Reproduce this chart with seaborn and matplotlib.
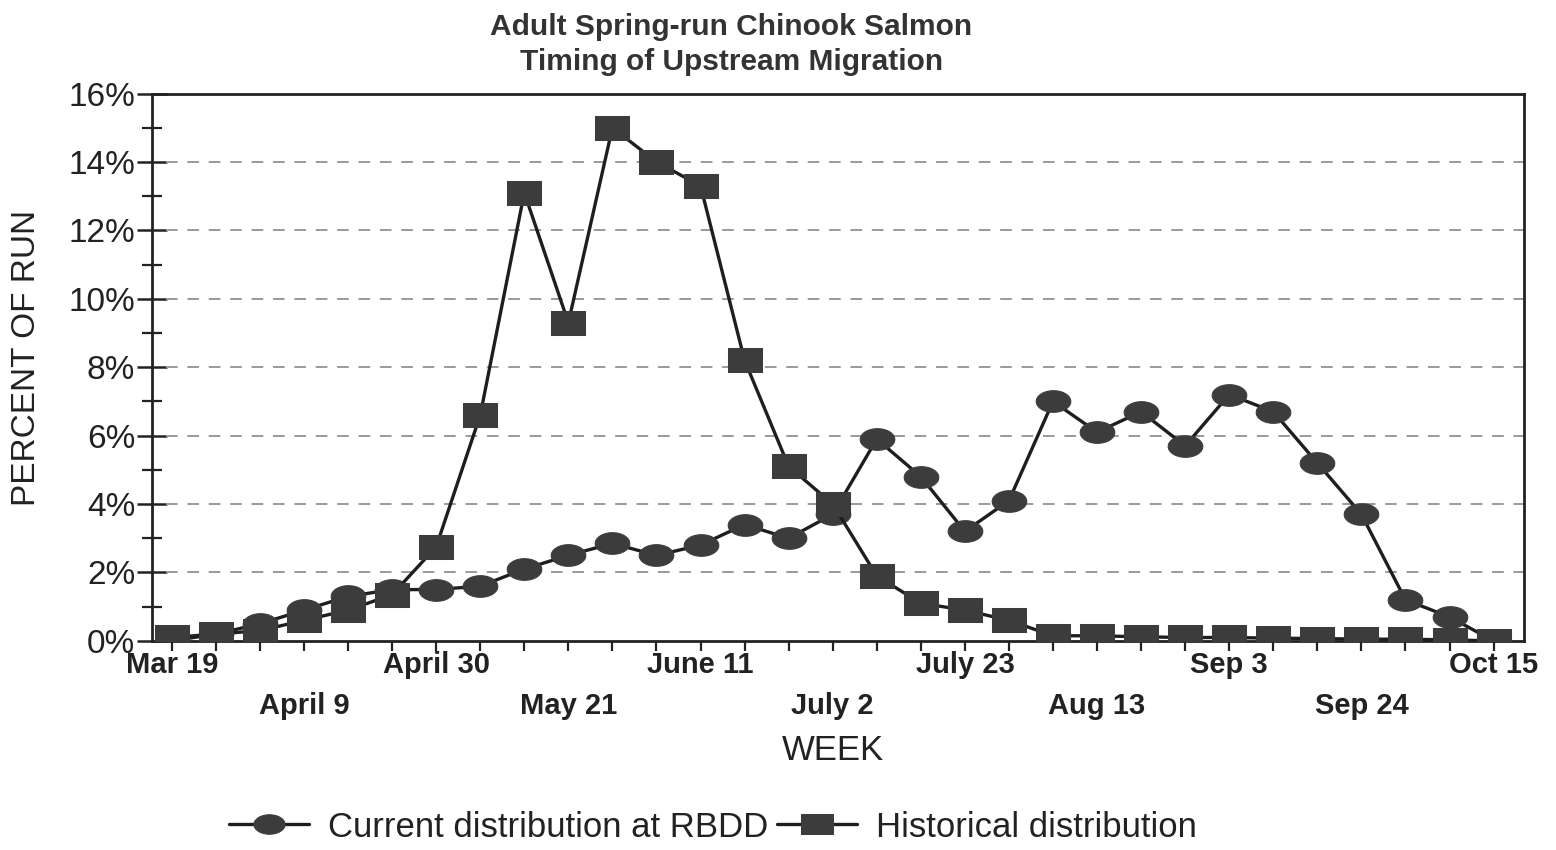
import numpy as np
import pandas as pd
import matplotlib
matplotlib.use("Agg")
import matplotlib.pyplot as plt
import seaborn as sns

weeks = ["Mar 19", "Mar 26", "Apr 2", "April 9", "Apr 16", "Apr 23", "April 30",
         "May 7", "May 14", "May 21", "May 28", "Jun 4", "June 11", "Jun 18",
         "Jun 25", "July 2", "Jul 9", "Jul 16", "July 23", "Jul 30", "Aug 6",
         "Aug 13", "Aug 20", "Aug 27", "Sep 3", "Sep 10", "Sep 17", "Sep 24",
         "Oct 1", "Oct 8", "Oct 15"]
labeled_weeks = ["Mar 19", "April 9", "April 30", "May 21", "June 11", "July 2",
                 "July 23", "Aug 13", "Sep 3", "Sep 24", "Oct 15"]
current = [0.0, 0.2, 0.5, 0.9, 1.3, 1.5, 1.5, 1.6, 2.1, 2.5, 2.85, 2.5, 2.8, 3.4,
           3.0, 3.7, 5.9, 4.8, 3.2, 4.1, 7.0, 6.1, 6.7, 5.7, 7.2, 6.7, 5.2, 3.7,
           1.2, 0.7, 0.0]
historical = [0.1, 0.2, 0.3, 0.6, 0.9, 1.35, 2.75, 6.6, 13.1, 9.3, 15.0, 14.0, 13.3,
              8.2, 5.1, 4.0, 1.9, 1.1, 0.9, 0.6, 0.15, 0.15, 0.12, 0.1, 0.1, 0.08,
              0.07, 0.05, 0.05, 0.03, 0.0]
yticks = [0, 2, 4, 6, 8, 10, 12, 14, 16]

sns.set_style("white")
plt.rcParams["font.family"] = ["Liberation Sans", "DejaVu Sans"]

fig = plt.figure(figsize=(15.56, 8.5), dpi=100)
ax = fig.add_axes([0.0977, 0.246, 0.882, 0.644])

df = pd.DataFrame({"week": np.arange(len(weeks)), "current": current,
                   "historical": historical})

t = np.linspace(0, 2 * np.pi, 40)
ellipse = np.column_stack([1.6 * np.cos(t), np.sin(t)])
rect = [(-1.5, -1), (1.5, -1), (1.5, 1), (-1.5, 1), (-1.5, -1)]

line_col = "#1e1e1e"
mark_col = "#3c3c3c"
sns.lineplot(data=df, x="week", y="current", ax=ax, color=line_col, lw=2.4,
             marker=ellipse, markersize=25, markerfacecolor=mark_col,
             markeredgecolor=mark_col, label="Current distribution at RBDD",
             legend=False, zorder=3)
sns.lineplot(data=df, x="week", y="historical", ax=ax, color=line_col, lw=2.4,
             marker=rect, markersize=25, markerfacecolor=mark_col,
             markeredgecolor=mark_col, label="Historical distribution",
             legend=False, zorder=4)

ax.set_xlim(-0.45, 30.7)
ax.set_ylim(0, 16)

for v in yticks[1:-1]:
    ax.axhline(v, xmin=0.01, color="#9a9a9a", lw=1.4, ls=(0, (6, 5)), zorder=1)

ax.set_yticks(yticks)
ax.set_yticklabels([f"{v}%" for v in yticks], fontsize=24)
ax.set_yticks([1, 3, 5, 7, 9, 11, 13, 15], minor=True)
ax.tick_params(axis="y", which="major", direction="inout", length=22, width=1.8,
               left=True, pad=1, colors="#222", labelcolor="#222")
ax.tick_params(axis="y", which="minor", direction="inout", length=14, width=1.6,
               left=True, colors="#222")

xt = np.arange(len(weeks))
ax.set_xticks(xt)
xl = []
k = 0
for i, w in enumerate(weeks):
    if w in labeled_weeks:
        xl.append(w if k % 2 == 0 else "\n" + w)
        k += 1
    else:
        xl.append("")
ax.set_xticklabels(xl, fontsize=21, fontweight="bold", linespacing=1.6)
ax.tick_params(axis="x", which="major", direction="out", length=7, width=1.6,
               bottom=True, pad=0, colors="#222", labelcolor="#222")

for s in ax.spines.values():
    s.set_color("#222")
    s.set_linewidth(2)

ax.set_ylabel("PERCENT OF RUN", fontsize=24, color="#222")
ax.yaxis.set_label_coords(-0.08, 0.517)
ax.set_xlabel("WEEK", fontsize=25, color="#222")
ax.xaxis.set_label_coords(0.496, -0.17)

fig.text(0.470, 0.968, "Adult Spring-run Chinook Salmon", ha="center", va="center",
         fontsize=21.5, fontweight="bold", color="#333")
fig.text(0.470, 0.927, "Timing of Upstream Migration", ha="center", va="center",
         fontsize=21.5, fontweight="bold", color="#333")

h, l = ax.get_legend_handles_labels()
leg = fig.legend(h, l, loc="center", bbox_to_anchor=(0.458, 0.027), ncol=2,
                 frameon=False, fontsize=25, handlelength=2.3, columnspacing=0.25,
                 handletextpad=0.55, markerscale=0.9)
for txt in leg.get_texts():
    txt.set_color("#222")

fig.savefig("out.png", dpi=100, facecolor="white")
